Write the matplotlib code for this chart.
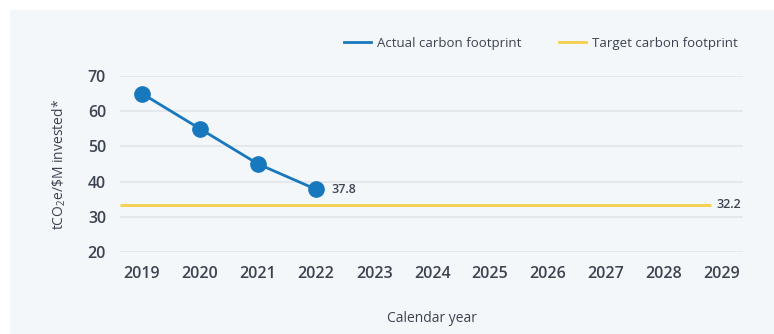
import matplotlib
matplotlib.use("Agg")
import matplotlib.pyplot as plt
from matplotlib.patches import Rectangle
from matplotlib.lines import Line2D

plt.rcParams['font.family'] = ['Open Sans', 'DejaVu Sans']
plt.rcParams['mathtext.fontset'] = 'custom'
plt.rcParams['mathtext.rm'] = 'Open Sans'
plt.rcParams['mathtext.it'] = 'Open Sans'

years = ['2019', '2020', '2021', '2022', '2023', '2024', '2025', '2026', '2027', '2028', '2029']
actual_years = ['2019', '2020', '2021', '2022']
actual_values = [65, 55, 45, 37.8]
target_value = 33.4
target_label = '32.2'
actual_label = '37.8'
yticks = [20, 30, 40, 50, 60, 70]

blue = '#1878be'
yellow = '#f7cf4a'
text_col = '#3b4350'
grid_col = '#e0e5ea'
bg = '#f4f7fa'

fig = plt.figure(figsize=(7.74, 3.34), dpi=100)
fig.patch.set_facecolor('white')
fig.patches.append(Rectangle((10/774, 0), 1, 1 - 10/334, transform=fig.transFigure,
                             facecolor=bg, edgecolor='none', zorder=-10))

ax = fig.add_axes([120/774, 1 - 252/334, (743 - 120)/774, (252 - 76)/334])
ax.set_facecolor('none')
x_all = list(range(len(years)))
xa = [years.index(y) for y in actual_years]

ax.set_xlim(-0.38, len(years) - 1 + 0.36)
ax.set_ylim(yticks[0], yticks[-1])
ax.set_yticks(yticks)
ax.set_xticks(x_all)
ax.set_xticklabels(years)
for s in ax.spines.values():
    s.set_visible(False)
ax.grid(axis='y', color=grid_col, linewidth=1.2, zorder=0)
ax.tick_params(axis='both', length=0, labelsize=11.5, labelcolor=text_col)
ax.tick_params(axis='x', pad=10)
ax.tick_params(axis='y', pad=10)
for lbl in ax.get_xticklabels() + ax.get_yticklabels():
    lbl.set_fontweight('semibold')

ax.plot([-0.38, len(years) - 1 - 0.2], [target_value, target_value], color=yellow,
        linewidth=2, zorder=2, solid_capstyle='butt')
ax.plot(xa, actual_values, color=blue, linewidth=2, marker='o', markersize=11,
        zorder=3, clip_on=False)

ax.annotate(actual_label, (xa[-1], actual_values[-1]), xytext=(11, 0),
            textcoords='offset points', va='center', ha='left', fontsize=9,
            color=text_col, fontweight='semibold')
ax.annotate(target_label, (len(years) - 1 - 0.2, target_value), xytext=(4, 0),
            textcoords='offset points', va='center', ha='left', fontsize=9,
            color=text_col, fontweight='semibold')

ax.set_ylabel(r'tCO$_2$e/\$M invested*', fontsize=10, color=text_col, labelpad=14)
fig.text(432/774, 1 - 319/334, 'Calendar year', ha='center', va='center',
         fontsize=10, color=text_col)

handles = [Line2D([], [], color=blue, linewidth=2),
           Line2D([], [], color=yellow, linewidth=2)]
leg = fig.legend(handles, ['Actual carbon footprint', 'Target carbon footprint'],
                 loc='center right', bbox_to_anchor=(750/774, 1 - 43/334), ncol=2,
                 frameon=False, fontsize=9.5, handlelength=2.1, handletextpad=0.45,
                 columnspacing=2.8, labelcolor=text_col)

fig.savefig('out.png', dpi=100, facecolor=fig.get_facecolor())
